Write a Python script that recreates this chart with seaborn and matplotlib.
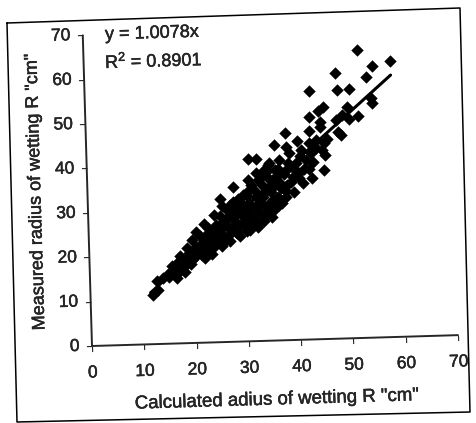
import matplotlib
matplotlib.use("Agg")
import matplotlib.patheffects as pe
import matplotlib.pyplot as plt
import seaborn as sns
from matplotlib.lines import Line2D
from matplotlib.transforms import Affine2D
from mpl_toolkits.axisartist import floating_axes
from mpl_toolkits.axisartist.grid_finder import DictFormatter, FixedLocator

calculated = [12.0, 12.9, 12.8, 14.0, 15.8, 17.3, 18.7, 20.5, 22.1, 24.1, 25.7, 16.6, 18.2, 19.4, 22.1, 23.5,
              25.4, 27.0, 28.9, 30.9, 14.9, 16.3, 17.5, 18.7, 19.8, 21.0, 22.2, 23.4, 24.6, 25.8, 26.9, 28.1,
              21.3, 22.9, 24.1, 25.5, 26.9, 28.2, 29.6, 28.2, 29.9, 19.7, 22.2, 23.7, 25.3, 27.9, 30.8, 30.9,
              32.4, 35.9, 38.1, 40.4, 42.9, 48.0, 48.3, 50.6, 45.5, 44.5, 42.8, 42.7, 44.9, 44.8, 47.9, 49.1,
              50.1, 50.4, 52.2, 54.9, 54.8, 53.9, 55.1, 58.6, 52.4, 48.8, 48.3, 45.4, 43.0, 45.6, 45.1, 38.2,
              41.3, 39.5, 37.9, 36.6, 33.5, 34.7, 36.1, 38.1, 40.0, 42.0, 43.3, 34.9, 36.8, 38.8, 41.1, 42.6,
              44.0, 45.5, 32.3, 33.9, 30.9, 29.7, 32.2, 28.9, 35.4, 39.4, 36.7, 30.8, 35.2, 32.4, 27.2, 33.2,
              31.0, 29.1, 33.4, 34.6, 36.0, 30.2, 32.2, 34.1, 32.7, 34.7, 40.6, 38.2,
              15.2, 16.0, 16.8, 17.0, 18.0, 18.3, 19.0, 19.6, 19.0, 20.3, 20.5, 20.9, 21.5,
              21.8, 22.8, 22.5, 23.2, 23.5, 24.0, 24.3, 24.8, 25.0, 25.2, 25.6, 26.2, 26.3, 26.5, 27.0,
              27.5, 27.8, 27.6, 27.8, 28.3, 28.6, 28.8, 29.2, 29.4, 29.8, 30.2, 30.3, 30.5, 31.0, 31.2,
              31.3, 31.5, 32.0, 32.2, 32.5, 33.0, 33.3, 33.5, 33.8, 34.2, 34.4, 34.8, 35.0, 35.3, 35.6,
              35.8, 36.3, 36.5, 37.0, 37.2, 37.6, 38.0, 38.5, 39.0, 39.6, 40.5, 40.8, 41.5, 42.5, 43.0,
              44.0, 46.0]
measured = [11.1, 12.2, 14.2, 14.8, 17.5, 19.7, 21.4, 25.0, 26.7, 28.7, 30.7, 14.8, 16.0, 17.8, 19.1, 19.9,
            21.7, 22.7, 23.8, 25.1, 15.7, 17.0, 17.9, 19.2, 20.5, 21.8, 23.1, 24.4, 25.7, 27.0, 28.4, 29.7,
            24.1, 25.8, 23.1, 24.4, 25.7, 27.0, 28.3, 24.7, 26.0, 23.2, 20.9, 21.5, 32.3, 34.9, 36.3, 41.1,
            41.0, 44.1, 46.7, 44.8, 56.0, 59.9, 56.0, 56.2, 52.3, 51.4, 50.1, 47.0, 48.9, 47.8, 49.3, 50.4,
            52.1, 49.4, 50.0, 52.9, 54.0, 58.8, 61.2, 62.2, 64.9, 45.9, 46.6, 38.1, 36.4, 41.5, 42.6, 43.5,
            35.3, 33.3, 32.3, 30.5, 32.4, 34.6, 36.8, 38.3, 39.9, 40.5, 40.0, 40.0, 40.6, 42.2, 42.7, 44.3,
            44.9, 44.2, 37.9, 38.5, 34.1, 33.0, 32.5, 30.3, 31.7, 36.7, 35.7, 31.2, 27.9, 25.7, 30.8, 28.4,
            28.4, 29.6, 35.1, 36.7, 38.4, 30.3, 30.2, 30.2, 36.3, 39.6, 37.6, 35.0,
            15.0, 16.2, 15.8, 18.3, 17.2, 18.5, 19.0, 18.8, 20.3, 19.6, 21.5, 20.4, 19.8,
            22.3, 21.0, 24.2, 22.6, 25.0, 21.8, 26.5, 24.4, 23.0, 28.5, 25.8, 22.9, 27.4, 29.8, 24.3,
            25.0, 26.3, 28.5, 31.5, 24.5, 29.0, 32.2, 26.2, 31.0, 27.2, 24.8, 29.3, 32.8, 26.5, 30.5,
            35.2, 27.7, 33.8, 26.9, 29.2, 31.3, 37.0, 27.0, 33.4, 28.6, 38.2, 31.0, 33.5, 36.2, 29.5,
            35.0, 32.2, 38.5, 34.2, 31.0, 37.5, 33.6, 40.0, 35.6, 38.6, 36.4, 41.3, 38.5, 38.3, 42.0,
            43.0, 45.0]
trend_x = [11.5, 58.6]
trend_y = [11.6, 59.0]
ticks = [0, 10, 20, 30, 40, 50, 60, 70]
x_title = 'Calculated adius of wetting R "cm"'
y_title = 'Measured radius of wetting R "cm"'
equation = "y = 1.0078x"
r_squared = "R$^{2}$ = 0.8901"

sns.set_style("white")
plt.rcParams["font.family"] = ["Liberation Sans", "DejaVu Sans"]
plt.rcParams["mathtext.fontset"] = "custom"
plt.rcParams["mathtext.rm"] = "Liberation Sans"
plt.rcParams["mathtext.default"] = "rm"

W, H = 476, 423
fig = plt.figure(figsize=(W / 100, H / 100), dpi=100)
ink = [pe.withStroke(linewidth=0.3, foreground="black")]

# The printed chart sits slightly rotated on the scanned page.
tilt = 1.7
tr = Affine2D().scale(5.23, 4.44).rotate_deg(tilt).translate(92, H - 346)
labels = {t: str(t) for t in ticks}
helper = floating_axes.GridHelperCurveLinear(
    tr, extremes=(0, 70, 0, 70),
    grid_locator1=FixedLocator(ticks), grid_locator2=FixedLocator(ticks),
    tick_formatter1=DictFormatter(labels), tick_formatter2=DictFormatter(labels))
ax = fig.add_subplot(111, axes_class=floating_axes.FloatingAxes, grid_helper=helper)
ax.set_position([0, 0, 1, 1])
ax.set_xlim(0, W)
ax.set_ylim(0, H)
ax.axis["top"].set_visible(False)
ax.axis["right"].set_visible(False)
for side, pad, label_size in (("bottom", 10, 13.4), ("left", 5, 13)):
    a = ax.axis[side]
    a.line.set_linewidth(1.4)
    a.major_ticks.set_ticksize(4)
    a.major_ticks.set_tick_out(True)
    a.major_ticks.set_linewidth(1.1)
    a.major_ticklabels.set_fontsize(12.5)
    a.major_ticklabels.set_pad(pad)
    a.major_ticklabels.set_path_effects(ink)
    a.label.set_fontsize(label_size)
    a.label.set_path_effects(ink)
ax.axis["bottom"].label.set_text(x_title)
ax.axis["bottom"].label.set_pad(14)
ax.axis["left"].label.set_text(y_title)
ax.axis["left"].label.set_pad(8)

aux = ax.get_aux_axes(tr)
aux.patch = ax.patch
ax.patch.zorder = 0.9
aux.set_autoscale_on(False)
sns.scatterplot(x=calculated, y=measured, ax=aux, marker="D", s=40, color="black",
                linewidth=0, legend=False)
sns.lineplot(x=trend_x, y=trend_y, ax=aux, color="black", linewidth=2.2, legend=False,
             errorbar=None, sort=False)
ax.set_xlim(0, W)
ax.set_ylim(0, H)

fig.text(105 / W, 1 - 35 / H, equation, fontsize=13, va="center", rotation=tilt,
         rotation_mode="anchor", path_effects=ink)
fig.text(105 / W, 1 - 62 / H, r_squared, fontsize=13, va="center", rotation=tilt,
         rotation_mode="anchor", path_effects=ink)

# Outer chart frame of the scan
frame_x = [7, 460, 470, 17, 7]
frame_y = [23, 8, 412, 422, 23]
fig.add_artist(Line2D([v / W for v in frame_x], [1 - v / H for v in frame_y],
                      color="black", linewidth=1.1, transform=fig.transFigure))

fig.savefig("out.png", dpi=100)
